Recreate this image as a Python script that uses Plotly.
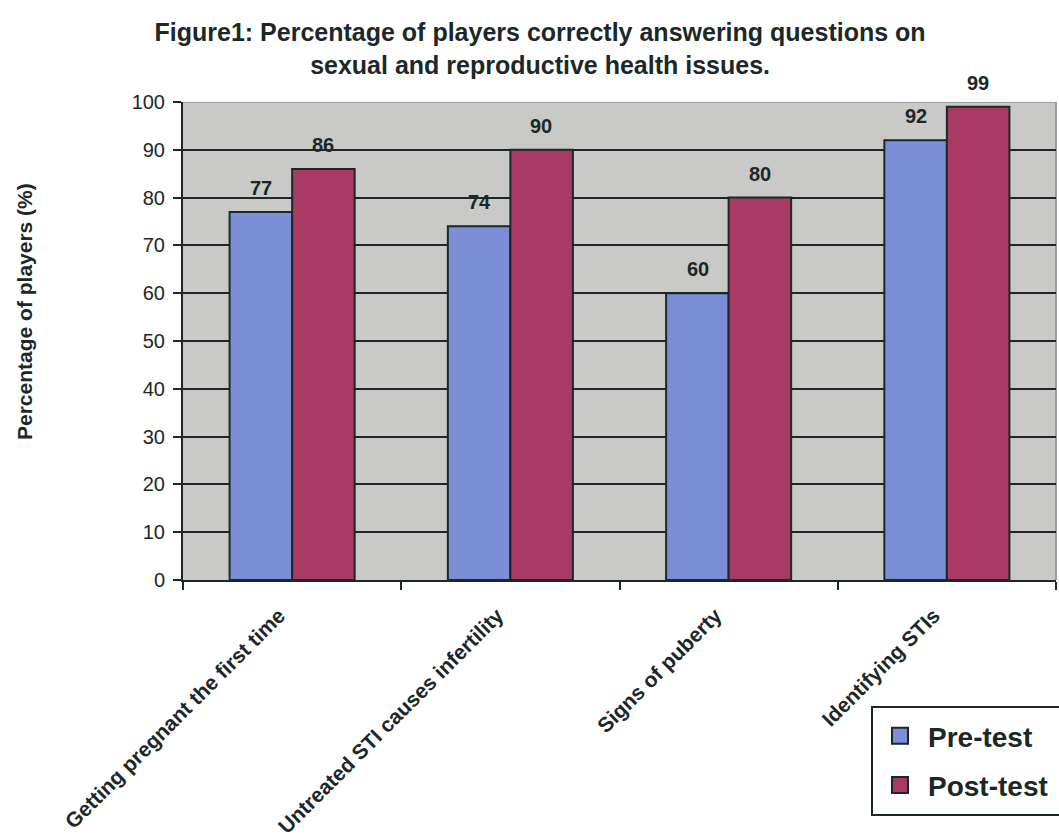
import plotly.graph_objects as go

categories = [
    "Getting pregnant the first time",
    "Untreated STI causes infertility",
    "Signs of puberty",
    "Identifying STIs",
]
pre_test = [77, 74, 60, 92]
post_test = [86, 90, 80, 99]
series_names = ["Pre-test", "Post-test"]
y_ticks = [0, 10, 20, 30, 40, 50, 60, 70, 80, 90, 100]

DARK = "#1c2828"
PRE_COLOR = "#7b8ed6"
POST_COLOR = "#a93a64"
PLOT_BG = "#c9c9c7"
FONT = "Liberation Sans, Arial, sans-serif"

fig = go.Figure()
series = [
    (series_names[0], pre_test, PRE_COLOR, "a"),
    (series_names[1], post_test, POST_COLOR, "b"),
]
for name, vals, color, grp in series:
    fig.add_trace(go.Bar(
        x=categories, y=vals, name=name, legendgroup=grp, showlegend=False,
        marker=dict(color=color, line=dict(color=DARK, width=2)),
    ))
# legend keys as larger square swatches
for name, vals, color, grp in series:
    fig.add_trace(go.Scatter(
        x=[None], y=[None], mode="markers", name=f"<b>{name}</b>",
        legendgroup=grp, showlegend=True,
        marker=dict(symbol="square", size=16, color=color,
                    line=dict(color=DARK, width=2)),
    ))

# value labels above each bar
bar_offset = 31
for vals, shift in [(pre_test, -bar_offset), (post_test, bar_offset)]:
    for cat, v in zip(categories, vals):
        fig.add_annotation(
            x=cat, y=v, text=f"<b>{v}</b>", showarrow=False,
            xshift=shift, yshift=24, yanchor="middle",
            font=dict(size=20, color=DARK, family=FONT),
        )

# y-axis title
fig.add_annotation(
    xref="paper", yref="paper", x=(24 - 183) / 873, y=(580 - 312) / 478,
    xanchor="center", yanchor="middle",
    text="<b>Percentage of players (%)</b>", textangle=-90, showarrow=False,
    font=dict(size=21, color=DARK, family=FONT),
)

# light frame on top and right of the plot area
fig.add_shape(
    type="path", xref="paper", yref="y",
    path="M 0,100 L 1,100 L 1,0", line=dict(color="#9c9c9c", width=2),
    layer="between",
)

# legend frame
fig.add_shape(
    type="rect", xref="paper", yref="paper",
    x0=(872 - 183) / 873, x1=(1060 - 183) / 873,
    y0=(580 - 815) / 478, y1=(580 - 707) / 478,
    line=dict(color=DARK, width=2), fillcolor="rgba(0,0,0,0)", layer="above",
)

fig.update_layout(
    width=1059, height=838,
    margin=dict(l=183, r=3, t=102, b=258, autoexpand=False),
    paper_bgcolor="white", plot_bgcolor=PLOT_BG,
    font=dict(family=FONT, color=DARK),
    barmode="group", bargap=0.427, bargroupgap=0,
    title=dict(
        text="<b>Figure1: Percentage of players correctly answering questions on<br>sexual and reproductive health issues.</b>",
        x=0.51, xanchor="center", y=1 - 41 / 838, yanchor="middle",
        font=dict(size=25, color=DARK, family=FONT),
    ),
    showlegend=True,
    legend=dict(
        x=(872 - 183) / 873, xanchor="left", y=(580 - 711) / 478, yanchor="top",
        bgcolor="rgba(0,0,0,0)", borderwidth=0,
        font=dict(size=28, color=DARK, family=FONT),
        traceorder="grouped", tracegroupgap=10, itemwidth=46,
    ),
    xaxis=dict(
        tickangle=-45, tickson="boundaries", ticks="outside", ticklen=8,
        tickwidth=2, tickcolor=DARK, showline=True, linecolor=DARK, linewidth=2,
        tickfont=dict(size=21, color=DARK, family=FONT),
        tickprefix="<b>", ticksuffix="</b>",
        ticklabelstandoff=13, ticklabelshift=-13,
        showgrid=False,
    ),
    yaxis=dict(
        range=[0, 100], tickvals=y_ticks, ticks="outside", ticklen=8,
        tickwidth=2, tickcolor=DARK, showline=True, linecolor=DARK, linewidth=2,
        showgrid=True, gridcolor=DARK, gridwidth=2, zeroline=False,
        tickfont=dict(size=20, color=DARK, family=FONT),
        ticklabelstandoff=4,
    ),
)

fig.write_html("out.html")
